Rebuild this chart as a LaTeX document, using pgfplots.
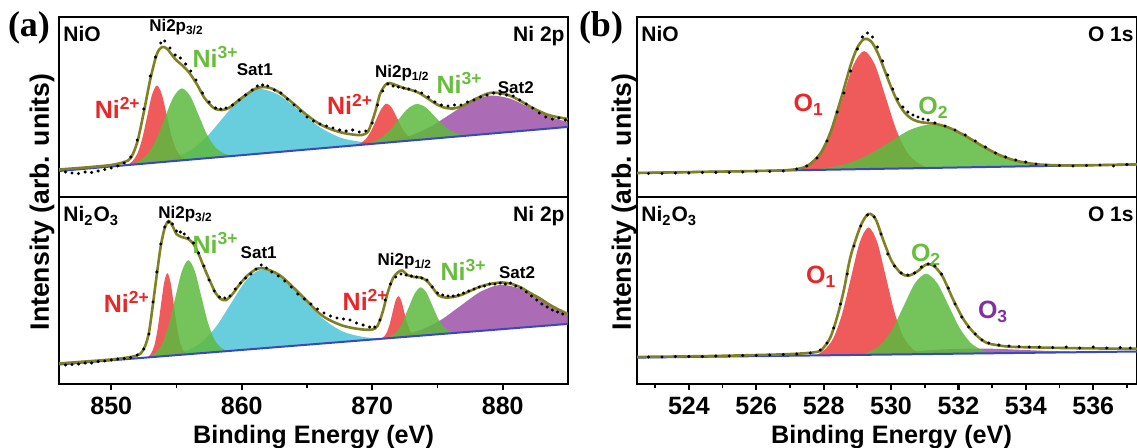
\documentclass[border=0pt]{standalone}
\usepackage{pgfplots}
\pgfplotsset{compat=1.18}
\usepackage{fontspec}
\setmainfont{Liberation Sans}
\newfontfamily\timesfont{Liberation Serif}

\definecolor{pkred}{RGB}{236,62,62}
\definecolor{pkgreen}{RGB}{92,186,62}
\definecolor{pkcyan}{RGB}{78,196,214}
\definecolor{pkpurple}{RGB}{158,82,168}
\definecolor{fitline}{RGB}{128,128,36}
\definecolor{baseblue}{RGB}{58,72,190}
\definecolor{lblred}{RGB}{232,40,40}
\definecolor{lblgreen}{RGB}{104,190,60}
\definecolor{lblpurple}{RGB}{128,48,160}

\pgfplotsset{
  xps/.style={scale only axis, anchor=south west,
    axis line style={line width=1.3pt},
    ytick=\empty, ymin=0,
    tick align=outside, xtick pos=left,
    major tick style={line width=1.1pt, black},
    minor tick style={line width=0.9pt, black},
    major tick length=3pt, minor tick length=1.8pt,
    xticklabel style={font=\fontsize{12.5}{12.5}\selectfont\bfseries},
    /pgf/number format/assume math mode=true,
  },
  comp/.style={draw=none, fill=#1, fill opacity=0.85, smooth},
  base/.style={baseblue, line width=1pt},
  env/.style={fitline, line width=1.3pt, smooth},
  dots/.style={only marks, mark=*, mark size=0.55pt, black},
}
\newcommand{\biglbl}[1]{\fontsize{12.5}{12.5}\selectfont\bfseries #1}
\newcommand{\smllbl}{\fontsize{8.5}{8.5}\selectfont\bfseries}
\newcommand{\satlbl}{\fontsize{8.5}{8.5}\selectfont\bfseries}
\newcommand{\taglbl}{\fontsize{10.5}{10.5}\selectfont\bfseries}

\begin{document}
\begin{tikzpicture}
\useasboundingbox (0,0) rectangle (568.5pt,223.5pt);

% (a) NiO, Ni 2p
\begin{axis}[xps, at={(29.5pt,125pt)}, width=254.5pt, height=90pt,
  xmin=846, xmax=885, ymax=180, xtick=\empty]
\addplot[comp=pkcyan] coordinates {(853.4,34.4) (854.7,38.7) (856.0,46.1) (857.3,59.9) (858.6,79.7) (859.9,99.1) (861.2,108.2) (862.8,102.4) (864.4,86.3) (866.0,69.7) (867.6,59.2) (869.2,55.1) (870.8,54.0)} -- cycle;
\addplot[comp=pkpurple] coordinates {(870.0,53.1) (871.5,56.5) (873.0,61.6) (874.5,70.6) (876.0,83.0) (877.5,95.2) (879.0,101.3) (880.5,98.6) (882.0,89.8) (883.5,80.8) (885.0,75.2) (886.5,73.5) (888.0,73.5)} -- cycle;
\addplot[comp=pkred] coordinates {(851.25,31.9) (851.625,35.8) (852.0,43.2) (852.375,58.2) (852.75,80.3) (853.125,102.1) (853.5,111.5) (853.875,102.9) (854.25,82.0) (854.625,60.7) (855.0,46.6) (855.375,40.0) (855.75,37.0)} -- cycle;
\addplot[comp=pkgreen] coordinates {(851.5,32.2) (852.15,36.2) (852.8,43.4) (853.45,57.8) (854.1,78.9) (854.75,99.5) (855.4,108.6) (856.05,101.0) (856.7,81.8) (857.35,62.2) (858.0,49.3) (858.65,43.5) (859.3,41.0)} -- cycle;
\addplot[comp=pkred] coordinates {(868.7,51.7) (869.1,53.8) (869.5,57.9) (869.9,65.7) (870.3,77.2) (870.7,88.3) (871.1,93.4) (871.5,89.2) (871.9,79.0) (872.3,68.4) (872.7,61.5) (873.1,58.3) (873.5,57.1)} -- cycle;
\addplot[comp=pkgreen] coordinates {(869.2,52.2) (869.9,54.6) (870.6,58.7) (871.3,66.3) (872.0,77.3) (872.7,88.0) (873.4,93.0) (874.1,89.6) (874.8,80.4) (875.5,71.0) (876.2,65.0) (876.9,62.5) (877.6,61.7)} -- cycle;
\addplot[base] coordinates {(846,26) (885,70.1)};
\addplot[env] coordinates {(846,27.5) (848,29.5) (850,32) (851,35) (851.5,39) (852.0,55) (852.5,85) (853.0,118) (853.5,143) (853.9,150) (854.3,148) (854.9,138) (855.5,131) (856.0,124) (856.6,112) (857.1,100) (857.6,92) (858.0,88) (858.5,87) (859.0,89) (859.6,95) (860.3,102) (861.0,108) (861.6,110) (862.3,108.5) (863.0,103.5) (864.0,93) (864.7,85) (865.5,77) (866.1,72) (867.0,67) (867.8,64) (868.5,62.5) (869.2,62) (869.7,66) (870.2,84) (870.6,103) (871.0,112) (871.3,114) (871.8,112) (872.4,109) (873.0,107) (873.6,104) (874.2,99) (874.9,93) (875.5,89.5) (876.2,88.5) (876.9,91) (877.9,98) (879.0,104) (880.0,103.5) (880.7,100.5) (881.5,95) (882.3,89) (883.5,82) (885,78)};
\addplot[dots] coordinates {(846.5,25) (847.0,24) (847.5,23.5) (848.0,25) (848.5,24.5) (849.0,26) (849.5,27.5) (850.0,29) (850.5,31) (851.0,34) (851.5,40) (852.0,57) (852.5,88) (853.0,121) (853.4,140) (853.8,154) (854.1,156) (854.5,149) (854.9,142) (855.3,139) (855.7,133) (856.1,126) (856.5,117) (857.0,104) (857.5,95) (858.0,89) (858.4,88) (858.8,89) (859.3,92) (859.8,97) (860.3,102) (860.8,107) (861.2,111) (861.6,112) (862.0,111) (862.5,107) (863.0,104) (863.5,98) (864.0,92) (864.5,86) (865.0,80) (865.5,76) (866.0,73) (866.5,71) (867.0,69) (867.5,67) (868.0,66) (868.5,67) (869.0,65) (869.5,66) (870.0,74) (870.4,92) (870.8,106) (871.2,113) (871.6,111) (872.0,110) (872.4,109) (872.8,108) (873.3,106) (873.8,104) (874.3,100) (874.8,95) (875.3,92) (875.8,91) (876.3,92) (876.8,92) (877.3,95) (877.8,97) (878.3,100) (878.8,102) (879.3,104) (879.8,103) (880.3,102) (880.8,101) (881.3,97) (881.8,93) (882.3,89) (882.8,84) (883.3,80) (883.8,78) (884.3,79) (884.8,77)};
\node[anchor=north west, inner sep=0pt, font=\taglbl] at (rel axis cs:0.008,0.95) {NiO};
\node[anchor=north east, inner sep=0pt, font=\taglbl] at (rel axis cs:0.994,0.95) {Ni 2p};
\node[font=\smllbl] at (axis cs:855.0,170) {Ni2p\textsubscript{3/2}};
\node[text=lblgreen] at (axis cs:858.0,140) {\biglbl{Ni\textsuperscript{3+}}};
\node[font=\satlbl] at (axis cs:861.0,127) {Sat1};
\node[text=lblred] at (axis cs:850.5,89) {\biglbl{Ni\textsuperscript{2+}}};
\node[font=\smllbl] at (axis cs:872.3,124) {Ni2p\textsubscript{1/2}};
\node[text=lblred] at (axis cs:868.3,92.5) {\biglbl{Ni\textsuperscript{2+}}};
\node[text=lblgreen] at (axis cs:876.7,114) {\biglbl{Ni\textsuperscript{3+}}};
\node[font=\satlbl] at (axis cs:881.0,109) {Sat2};
\end{axis}

% (a) Ni2O3, Ni 2p
\begin{axis}[xps, at={(29.5pt,31.5pt)}, width=254.5pt, height=93.5pt,
  xmin=846, xmax=885, ymax=187,
  xtick={850,860,870,880}, minor xtick={855,865,875}]
\addplot[comp=pkcyan] coordinates {(854.6,28.4) (855.75,33.1) (856.9,41.4) (858.05,57.6) (859.2,81.0) (860.35,103.9) (861.5,114.3) (863.05,106.7) (864.6,86.6) (866.15,66.1) (867.7,52.7) (869.25,47.2) (870.8,45.3)} -- cycle;
\addplot[comp=pkpurple] coordinates {(870.8,45.3) (872.3,48.9) (873.8,54.4) (875.3,64.4) (876.8,78.5) (878.3,92.3) (879.8,99.1) (881.3,95.4) (882.8,84.8) (884.3,73.7) (885.8,66.9) (887.3,64.5) (888.8,64.0)} -- cycle;
\addplot[comp=pkred] coordinates {(852.8,26.6) (853.05,30.4) (853.3,38.3) (853.55,54.3) (853.8,77.9) (854.05,101.0) (854.3,110.9) (854.55,101.5) (854.8,79.0) (855.05,55.8) (855.3,40.4) (855.55,33.0) (855.8,29.7)} -- cycle;
\addplot[comp=pkgreen] coordinates {(852.9,26.7) (853.4,31.3) (853.9,40.4) (854.4,58.8) (854.9,85.9) (855.4,112.3) (855.9,123.8) (856.4,113.3) (856.9,87.9) (857.4,62.0) (857.9,44.6) (858.4,36.5) (858.9,32.9)} -- cycle;
\addplot[comp=pkred] coordinates {(870.65,45.1) (870.875,47.2) (871.1,51.2) (871.325,59.3) (871.55,71.2) (871.775,82.9) (872.0,87.9) (872.225,83.4) (872.45,72.1) (872.675,60.7) (872.9,53.1) (873.125,49.5) (873.35,47.9)} -- cycle;
\addplot[comp=pkgreen] coordinates {(871.0,45.5) (871.45,48.1) (871.9,52.9) (872.35,62.6) (872.8,76.8) (873.25,90.5) (873.7,96.7) (874.15,91.5) (874.6,78.6) (875.05,65.4) (875.5,56.7) (875.95,52.7) (876.4,51.1)} -- cycle;
\addplot[base] coordinates {(846,19.5) (885,60.1)};
\addplot[env] coordinates {(846,20.5) (848,22.5) (850,24.5) (851.5,27) (852.2,30) (852.6,38) (852.9,52) (853.2,80) (853.5,110) (853.8,138) (854.1,156) (854.4,163) (854.7,158) (855.0,150) (855.4,147) (855.9,145) (856.3,140) (856.7,130) (857.1,117) (857.6,102) (858.0,91) (858.4,85) (858.8,84) (859.3,90) (859.8,99) (860.4,108) (861.0,114) (861.5,116) (862.2,113.5) (863.0,108) (864.0,96) (865.0,83) (866.0,70) (866.8,63.5) (867.7,58.5) (868.5,56) (869.3,54.5) (870.0,54.5) (870.4,58) (870.8,72) (871.2,92) (871.6,106) (872.0,112) (872.3,113.5) (872.7,109) (873.2,107) (873.7,106.5) (874.2,103) (874.7,95) (875.1,88.5) (875.6,86.5) (876.2,87) (876.8,89) (877.5,93) (878.3,97.5) (879.2,100.5) (880.0,101.5) (880.7,100) (881.4,96.5) (882.1,91) (882.8,86) (883.5,80) (884.2,75) (885,70)};
\addplot[dots] coordinates {(846.5,19) (847,19.5) (847.5,20) (848,21) (848.5,21) (849,22.5) (849.5,23) (850,24) (850.5,25) (851,25.5) (851.5,26.5) (852,29) (852.5,35) (852.9,50) (853.2,82) (853.5,112) (853.8,140) (854.1,157) (854.4,162) (854.7,160) (855.0,153) (855.3,152) (855.6,150) (855.9,146) (856.3,141) (856.7,131) (857.1,118) (857.5,104) (857.9,93) (858.3,87) (858.7,86) (859.1,88) (859.5,95) (859.9,101) (860.3,106) (860.7,110) (861.1,115) (861.5,119) (861.9,116) (862.3,112) (862.8,108) (863.3,103) (863.8,97) (864.3,90) (864.8,85) (865.3,80) (865.8,75) (866.3,71) (866.8,68) (867.3,66) (867.8,65) (868.3,64) (868.8,61) (869.3,59) (869.8,57) (870.2,57) (870.6,64) (871.0,84) (871.4,100) (871.8,107) (872.2,110) (872.6,109) (873.0,108) (873.4,107) (873.8,106) (874.2,104) (874.6,97) (875.0,91) (875.4,89) (875.8,88) (876.2,88) (876.6,89) (877.0,91) (877.4,93) (877.8,95) (878.2,97) (878.6,98) (879.0,100) (879.4,100) (879.8,101) (880.2,100) (880.6,101) (881.0,98) (881.4,96) (881.8,92) (882.2,88) (882.6,84) (883.0,80) (883.4,77) (883.8,74) (884.2,72) (884.6,70)};
\node[anchor=north west, inner sep=0pt, font=\taglbl] at (rel axis cs:0.008,0.95) {Ni\textsubscript{2}O\textsubscript{3}};
\node[anchor=north east, inner sep=0pt, font=\taglbl] at (rel axis cs:0.994,0.95) {Ni 2p};
\node[font=\smllbl] at (axis cs:855.7,170) {Ni2p\textsubscript{3/2}};
\node[text=lblgreen] at (axis cs:858.0,141) {\biglbl{Ni\textsuperscript{3+}}};
\node[font=\satlbl] at (axis cs:861.3,131) {Sat1};
\node[text=lblred] at (axis cs:851.2,82) {\biglbl{Ni\textsuperscript{2+}}};
\node[font=\smllbl] at (axis cs:872.5,123) {Ni2p\textsubscript{1/2}};
\node[text=lblred] at (axis cs:869.5,84) {\biglbl{Ni\textsuperscript{2+}}};
\node[text=lblgreen] at (axis cs:877.0,114) {\biglbl{Ni\textsuperscript{3+}}};
\node[font=\satlbl] at (axis cs:881.1,111) {Sat2};
\end{axis}

% (b) NiO, O 1s
\begin{axis}[xps, at={(318.5pt,125pt)}, width=250pt, height=90pt,
  xmin=522.46, xmax=537.3, ymax=180, xtick=\empty]
\addplot[comp=pkred] coordinates {(527.28,26.8) (527.6,32.2) (527.92,43.0) (528.24,65.7) (528.56,99.1) (528.88,131.9) (529.2,145.9) (529.52,132.3) (529.84,99.9) (530.16,66.8) (530.48,44.5) (530.8,34.0) (531.12,29.0)} -- cycle;
\addplot[comp=pkgreen] coordinates {(527.45,26.9) (528.075,29.1) (528.7,33.5) (529.325,42.2) (529.95,54.8) (530.575,67.3) (531.2,72.7) (531.825,68.0) (532.45,56.3) (533.075,44.3) (533.7,36.4) (534.325,32.8) (534.95,31.2)} -- cycle;
\addplot[base] coordinates {(522.46,24) (537.3,32.6)};
\addplot[env] coordinates {(522.46,24) (524,24.9) (526.0,26.0) (527.0,27.1) (527.5,30.9) (527.9,43.4) (528.2,64.6) (528.5,96.6) (528.8,131.6) (529.0,149.4) (529.2,158.0) (529.4,155.9) (529.6,144.5) (529.8,127.5) (530.0,110.0) (530.2,95.0) (530.4,84.5) (530.6,78.4) (530.8,75.5) (531.0,74.3) (531.3,73.2) (531.7,69.6) (532.2,61.3) (532.7,51.2) (533.2,42.3) (533.7,36.4) (534.3,32.8) (535.0,31.7) (536.0,31.8) (537.3,32.6)};
\addplot[dots] coordinates {(522.8,23.5) (523.2,23.5) (523.6,24) (524.0,24) (524.4,24.5) (524.8,24.5) (525.2,24.5) (525.6,25) (526.0,25.5) (526.4,25.5) (526.8,26) (527.2,28) (527.5,31) (527.8,39) (528.1,56) (528.4,85) (528.6,104) (528.8,126) (529.0,148) (529.15,160) (529.3,164) (529.45,160) (529.6,150) (529.75,136) (529.9,122) (530.05,108) (530.2,98) (530.35,90) (530.5,85) (530.65,82) (530.8,80) (530.95,78) (531.1,77) (531.3,74) (531.6,71) (531.9,67) (532.2,62) (532.5,56) (532.8,50) (533.1,44) (533.4,40) (533.7,37) (534.0,35) (534.3,33) (534.6,32) (535.0,31.5) (535.4,31) (535.8,31.5) (536.2,32) (536.6,31) (537.0,32.5)};
\node[anchor=north west, inner sep=0pt, font=\taglbl] at (rel axis cs:0.008,0.95) {NiO};
\node[anchor=north east, inner sep=0pt, font=\taglbl] at (rel axis cs:0.994,0.95) {O 1s};
\node[text=lblred] at (axis cs:527.56,92.5) {\biglbl{O\textsubscript{1}}};
\node[text=lblgreen] at (axis cs:531.26,89) {\biglbl{O\textsubscript{2}}};
\end{axis}

% (b) Ni2O3, O 1s
\begin{axis}[xps, at={(318.5pt,31.5pt)}, width=250pt, height=93.5pt,
  xmin=522.46, xmax=537.3, ymax=187,
  xtick={524,526,...,536}, minor xtick={523,525,...,537}]
\addplot[comp=pkpurple] coordinates {(527.5,28.5) (528.3,29.0) (529.1,29.8) (529.9,31.0) (530.7,32.8) (531.5,34.5) (532.3,35.4) (533.1,35.2) (533.9,34.1) (534.7,33.0) (535.5,32.4) (536.3,32.3) (537.1,32.4)} -- cycle;
\addplot[comp=pkred] coordinates {(527.77,28.6) (528.03,34.3) (528.29,46.0) (528.55,70.3) (528.81,106.3) (529.07,141.6) (529.33,156.6) (529.59,141.8) (529.85,106.7) (530.11,70.9) (530.37,46.8) (530.63,35.3) (530.89,29.8)} -- cycle;
\addplot[comp=pkgreen] coordinates {(529.06,29.1) (529.39,32.7) (529.72,40.3) (530.05,55.6) (530.38,78.4) (530.71,100.8) (531.04,110.3) (531.37,100.9) (531.7,79.0) (532.03,56.4) (532.36,41.3) (532.69,34.1) (533.02,30.7)} -- cycle;
\addplot[base] coordinates {(522.46,26.4) (537.3,32.5)};
\addplot[env] coordinates {(522.46,27.1) (524.5,27.9) (526.9,29.8) (527.8,32.1) (528.0,36.5) (528.2,46.7) (528.4,67) (528.6,94) (528.8,127.8) (529.1,158.3) (529.33,170.1) (529.54,165) (529.76,144.7) (530.02,122.8) (530.29,111) (530.51,108.2) (530.78,112.6) (531.04,119.4) (531.26,118.4) (531.53,107.5) (531.85,83.9) (532.17,63.6) (532.49,50.1) (532.81,41.6) (533.14,38.9) (533.57,37.2) (534.4,36.5) (535.5,35.8) (537.3,35.2)};
\addplot[dots] coordinates {(522.8,27) (523.2,27) (523.6,27.5) (524.0,27.5) (524.4,27.5) (524.8,28) (525.2,28) (525.6,28.5) (526.0,28.5) (526.4,29) (526.8,29.5) (527.2,30) (527.6,31) (527.9,34) (528.1,41) (528.3,56) (528.5,80) (528.7,110) (528.9,138) (529.1,158) (529.3,169) (529.5,167) (529.7,150) (529.9,130) (530.1,118) (530.3,111) (530.5,109) (530.7,111) (530.9,117) (531.1,120) (531.3,118) (531.5,110) (531.7,96) (531.9,80) (532.1,67) (532.3,57) (532.5,50) (532.7,44) (532.9,41) (533.2,39) (533.5,38) (533.8,37.5) (534.1,37) (534.4,37) (534.8,36.5) (535.2,37) (535.6,36) (536.0,37) (536.4,36) (536.8,36.5) (537.1,36)};
\node[anchor=north west, inner sep=0pt, font=\taglbl] at (rel axis cs:0.008,0.95) {Ni\textsubscript{2}O\textsubscript{3}};
\node[anchor=north east, inner sep=0pt, font=\taglbl] at (rel axis cs:0.994,0.95) {O 1s};
\node[text=lblred] at (axis cs:527.93,107.5) {\biglbl{O\textsubscript{1}}};
\node[text=lblgreen] at (axis cs:531.04,129.5) {\biglbl{O\textsubscript{2}}};
\node[text=lblpurple] at (axis cs:533.03,72) {\biglbl{O\textsubscript{3}}};
\end{axis}

\node[rotate=90, font=\fontsize{13.3}{13.3}\selectfont\bfseries] at (21pt,122.5pt) {Intensity (arb. units)};
\node[rotate=90, font=\fontsize{13.3}{13.3}\selectfont\bfseries] at (312pt,122.5pt) {Intensity (arb. units)};
\node[anchor=base, font=\fontsize{12.6}{12.6}\selectfont\bfseries] at (156.75pt,2pt) {Binding Energy (eV)};
\node[anchor=base, font=\fontsize{12.6}{12.6}\selectfont\bfseries] at (445.75pt,2pt) {Binding Energy (eV)};
\node[font=\fontsize{18}{18}\selectfont\timesfont\bfseries] at (14.5pt,209.5pt) {(a)};
\node[font=\fontsize{18}{18}\selectfont\timesfont\bfseries] at (300.5pt,209.5pt) {(b)};
\end{tikzpicture}
\end{document}
